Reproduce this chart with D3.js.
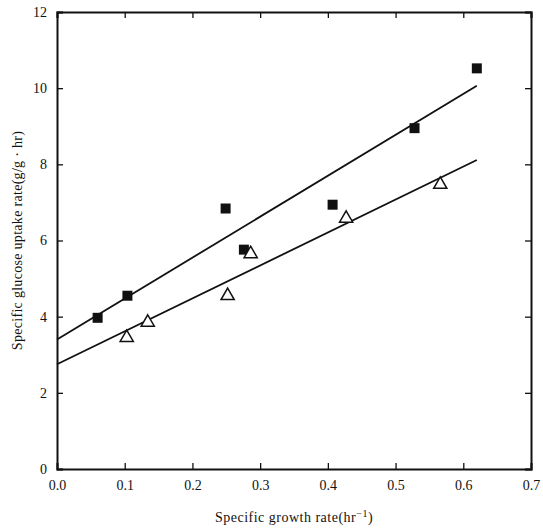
<!DOCTYPE html>
<html>
<head>
<meta charset="utf-8">
<script src="https://cdn.jsdelivr.net/npm/d3@7"></script>
<style>
  body { margin: 0; background: #fff; }
  text { font-family: "Liberation Serif", "DejaVu Serif", serif; fill: #111; }
</style>
</head>
<body>
<svg id="vis"></svg>
<script>
const plotWidth = 543;
const plotHeight = 531;
const margin = {top: 12, right: 12, bottom: 62, left: 57};

// filled squares
const squareX = [0.06, 0.104, 0.249, 0.276, 0.407, 0.528, 0.62];
const squareY = [3.97, 4.55, 6.84, 5.76, 6.94, 8.95, 10.52];
// open triangles
const triX = [0.103, 0.134, 0.252, 0.286, 0.427, 0.566];
const triY = [3.45, 3.85, 4.55, 5.65, 6.58, 7.47];
// fitted lines [intercept, slope]
const fitSquare = [3.4, 10.75];
const fitTri = [2.75, 8.65];
const lineRange = [0, 0.62];

const xTicks = [0, 0.1, 0.2, 0.3, 0.4, 0.5, 0.6, 0.7];
const yTicks = [0, 2, 4, 6, 8, 10, 12];

const svg = d3.select('#vis')
            .attr('width', plotWidth)
            .attr('height', plotHeight);

const x = d3.scaleLinear().domain([0, 0.7]).range([margin.left, plotWidth - margin.right]);
const y = d3.scaleLinear().domain([0, 12]).range([plotHeight - margin.bottom, margin.top]);

function main() {
    drawAxes();
    drawFit(fitSquare);
    drawFit(fitTri);
    drawPoints();
    drawLabels();
}

function drawAxes() {
    // ticks point inward on all four sides
    svg.append('g')
        .attr('transform', `translate(0,${y(0)})`)
        .call(d3.axisBottom(x).tickValues(xTicks).tickSize(-6).tickPadding(11).tickFormat(d3.format('.1f')));
    svg.append('g')
        .attr('transform', `translate(0,${y(12)})`)
        .call(d3.axisTop(x).tickValues(xTicks).tickSize(-6).tickFormat(''));
    svg.append('g')
        .attr('transform', `translate(${x(0)},0)`)
        .call(d3.axisLeft(y).tickValues(yTicks).tickSize(-6).tickPadding(10));
    svg.append('g')
        .attr('transform', `translate(${x(0.7)},0)`)
        .call(d3.axisRight(y).tickValues(yTicks).tickSize(-6).tickFormat(''));

    svg.selectAll('.domain').attr('stroke', '#111').attr('stroke-width', 2);
    svg.selectAll('.tick line').attr('stroke', '#111').attr('stroke-width', 1.3);
    svg.selectAll('.tick text').style('font-size', '14px').attr('fill', '#111');
}

function drawFit(fit) {
    const pts = lineRange.map(v => [x(v), y(fit[0] + fit[1] * v)]);
    svg.append('path')
        .attr('d', d3.line()(pts))
        .attr('stroke', '#111')
        .attr('stroke-width', 1.8)
        .attr('fill', 'none');
}

function drawPoints() {
    svg.selectAll('.sq').data(squareX).enter()
        .append('path')
        .attr('d', d3.symbol(d3.symbolSquare, 100))
        .attr('transform', (d, i) => `translate(${x(d)},${y(squareY[i])})`)
        .attr('fill', '#111');

    svg.selectAll('.tri').data(triX).enter()
        .append('path')
        .attr('d', d3.symbol(d3.symbolTriangle, 75))
        .attr('transform', (d, i) => `translate(${x(d)},${y(triY[i])})`)
        .attr('fill', '#fff')
        .attr('stroke', '#111')
        .attr('stroke-width', 1.5);
}

function drawLabels() {
    svg.append('text')
        .attr('x', (x(0) + x(0.7)) / 2)
        .attr('y', 522)
        .attr('text-anchor', 'middle')
        .style('font-size', '14px')
        .style('letter-spacing', '0.5px')
        .text('Specific growth rate(hr')
        .append('tspan')
        .attr('dy', -5)
        .style('font-size', '10px')
        .text('−1')
        .select(function() { return this.parentNode; })
        .append('tspan')
        .attr('dy', 5)
        .text(')');

    svg.append('text')
        .attr('transform', `translate(22,${y(6)}) rotate(-90)`)
        .attr('text-anchor', 'middle')
        .style('font-size', '14px')
        .style('letter-spacing', '0.3px')
        .text('Specific glucose uptake rate(g/g · hr)');
}

main()
</script>
</body>
</html>
